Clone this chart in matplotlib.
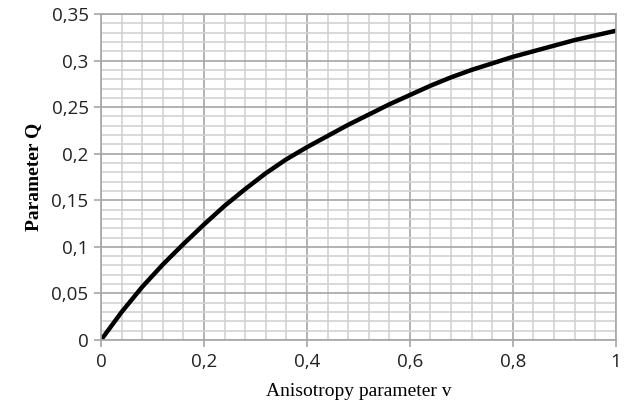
import numpy as np
import matplotlib.pyplot as plt
from matplotlib.ticker import MultipleLocator, FuncFormatter

v = [0, 0.04, 0.08, 0.12, 0.16, 0.2, 0.24, 0.28, 0.32, 0.36, 0.4, 0.44, 0.48,
     0.52, 0.56, 0.6, 0.64, 0.68, 0.72, 0.76, 0.8, 0.84, 0.88, 0.92, 0.96, 1.0]
Q = [0, 0.030, 0.057, 0.081, 0.103, 0.124, 0.144, 0.162, 0.179, 0.194, 0.207, 0.219, 0.231,
     0.242, 0.253, 0.263, 0.273, 0.282, 0.290, 0.297, 0.304, 0.310, 0.316, 0.322, 0.327, 0.332]

fig = plt.figure(figsize=(6.29, 4.07), dpi=100)
ax = fig.add_axes([0.1606, 0.1646, 0.8184, 0.801])

ax.plot(v, Q, color='black', linewidth=3.2, solid_capstyle='round', solid_joinstyle='round')

ax.set_xlim(0, 1)
ax.set_ylim(0, 0.35)
ax.xaxis.set_major_locator(MultipleLocator(0.2))
ax.xaxis.set_minor_locator(MultipleLocator(0.04))
ax.yaxis.set_major_locator(MultipleLocator(0.05))
ax.yaxis.set_minor_locator(MultipleLocator(0.01))

comma = FuncFormatter(lambda x, p: ('%g' % round(x, 2)).replace('.', ','))
ax.xaxis.set_major_formatter(comma)
ax.yaxis.set_major_formatter(comma)

ax.grid(which='minor', color='#d2d2d2', linewidth=1.2)
ax.grid(which='major', color='#a6a6a6', linewidth=1.2)
ax.set_axisbelow(True)

for s in ax.spines.values():
    s.set_color('#a6a6a6')
    s.set_linewidth(1.2)

ax.tick_params(which='minor', length=0)
ax.tick_params(which='major', length=5, width=1.2, color='#a6a6a6',
               labelsize=13.5, labelcolor='#222222', pad=4)
for lab in ax.get_xticklabels() + ax.get_yticklabels():
    lab.set_family('Open Sans')

ax.set_xlabel("Anisotropy parameter v", family='Liberation Serif', fontsize=14, labelpad=9)
ax.set_ylabel("Parameter Q", family='Liberation Serif', fontsize=14, fontweight='bold', labelpad=7)

fig.savefig("out.png", dpi=100)
